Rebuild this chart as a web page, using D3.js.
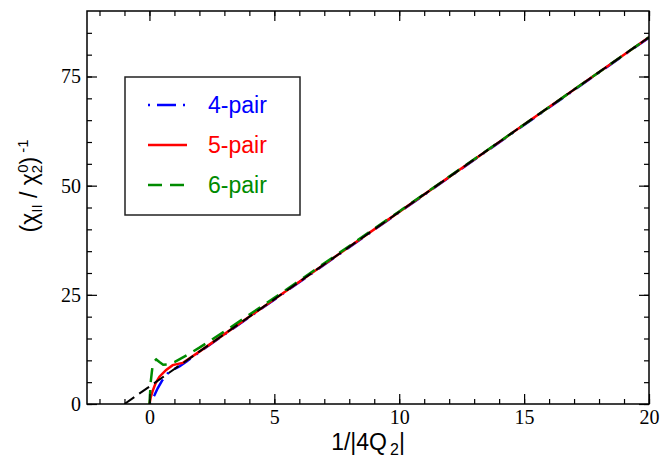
<!DOCTYPE html>
<html>
<head>
<meta charset="utf-8">
<script src="https://cdn.jsdelivr.net/npm/d3@7"></script>
<style>
  body { margin: 0; background: #fff; }
  svg { display: block; }
</style>
</head>
<body>
<div id="chart"></div>
<script>
// x ticks
const xMajor = [0, 5, 10, 15, 20];
const xMinor = [-2, -1, 0, 1, 2, 3, 4, 5, 6, 7, 8, 9, 10, 11, 12, 13, 14, 15, 16, 17, 18, 19, 20];
// y ticks
const yMajor = [0, 25, 50, 75];
const yMinor = [0, 5, 10, 15, 20, 25, 30, 35, 40, 45, 50, 55, 60, 65, 70, 75, 80, 85];

// 4-pair
const fourX = [0, 0.1, 0.2, 0.33, 0.5, 0.73, 0.93, 1.2, 1.5, 2, 3, 5, 10, 15, 20];
const fourY = [0, 1.0, 2.0, 3.6, 5.3, 7.0, 7.8, 8.6, 9.8, 11.9, 15.9, 23.9, 43.9, 63.9, 83.9];
// 5-pair
const fiveX = [0, 0.05, 0.13, 0.25, 0.4, 0.67, 0.93, 1.33, 2, 3, 5, 10, 15, 20];
const fiveY = [0, 1.5, 3.0, 4.8, 6.25, 7.8, 8.9, 9.4, 12.0, 16.0, 24.0, 44.0, 64.0, 84.0];
// 6-pair
const sixX = [0, 0.05, 0.12, 0.2, 0.27, 0.4, 0.55, 0.75, 1.0, 1.5, 2, 3, 5, 10, 15, 20];
const sixY = [0, 5.0, 8.5, 9.8, 10.2, 9.6, 9.0, 9.1, 9.6, 11.2, 12.9, 16.6, 24.3, 44.1, 64.0, 84.0];
// black dashed guide
const refX = [-1, 20];
const refY = [0, 84];

const seriesNames = ["4-pair", "5-pair", "6-pair"];

//set margins and dimensions
const margin = {top: 11, right: 15, bottom: 55, left: 87};
const width = 664 - margin.left - margin.right;
const height = 459 - margin.top - margin.bottom;

const serif = "'Liberation Serif', 'Times New Roman', serif";
const sans = "'Liberation Sans', Arial, sans-serif";

const x = d3.scaleLinear().domain([-2.5, 20]).range([0, width]);
const y = d3.scaleLinear().domain([0, 90]).range([height, 0]);

const svg = d3.select('#chart').append('svg')
    .attr('width', 664)
    .attr('height', 459);

const g = svg.append('g')
    .attr('transform', 'translate(' + margin.left + ',' + margin.top + ')');

const zip = (xs, ys) => xs.map((v, i) => [v, ys[i]]);

const line = d3.line()
    .x(d => x(d[0]))
    .y(d => y(d[1]));

const series = [
  {name: seriesNames[0], data: zip(fourX, fourY), color: '#0000ff', dash: '2,7,19,7'},
  {name: seriesNames[1], data: zip(fiveX, fiveY), color: '#ff0000', dash: null},
  {name: seriesNames[2], data: zip(sixX, sixY), color: '#008b00', dash: '14,8'}
];

g.append('clipPath').attr('id', 'clip')
  .append('rect').attr('width', width).attr('height', height);

const plot = g.append('g').attr('clip-path', 'url(#clip)');

series.forEach(s => {
  plot.append('path')
    .datum(s.data)
    .attr('fill', 'none')
    .attr('stroke', s.color)
    .attr('stroke-width', 2.5)
    .attr('stroke-dasharray', s.dash)
    .attr('d', line);
});

plot.append('path')
  .datum(zip(refX, refY))
  .attr('fill', 'none')
  .attr('stroke', '#000')
  .attr('stroke-width', 2)
  .attr('stroke-dasharray', '12,6')
  .attr('d', line);

// axes, ticks pointing inward on all sides
function styleAxis(sel) {
  sel.select('.domain').remove();
  sel.attr('font-family', serif).attr('font-size', 20);
  sel.selectAll('.tick line').attr('stroke', '#000').attr('stroke-width', 1.2);
  sel.selectAll('.tick text').attr('fill', '#000');
}

g.append('g').attr('transform', 'translate(0,' + height + ')')
  .call(d3.axisBottom(x).tickValues(xMinor).tickSize(-5).tickFormat(''))
  .call(styleAxis);
g.append('g').attr('transform', 'translate(0,' + height + ')')
  .call(d3.axisBottom(x).tickValues(xMajor).tickSize(-10).tickPadding(6).tickFormat(d3.format('d')))
  .call(styleAxis);
g.append('g')
  .call(d3.axisTop(x).tickValues(xMinor).tickSize(-5).tickFormat(''))
  .call(styleAxis);
g.append('g')
  .call(d3.axisTop(x).tickValues(xMajor).tickSize(-10).tickFormat(''))
  .call(styleAxis);

g.append('g')
  .call(d3.axisLeft(y).tickValues(yMinor).tickSize(-5).tickFormat(''))
  .call(styleAxis);
g.append('g')
  .call(d3.axisLeft(y).tickValues(yMajor).tickSize(-10).tickPadding(6).tickFormat(d3.format('d')))
  .call(styleAxis);
g.append('g').attr('transform', 'translate(' + width + ',0)')
  .call(d3.axisRight(y).tickValues(yMinor).tickSize(-5).tickFormat(''))
  .call(styleAxis);
g.append('g').attr('transform', 'translate(' + width + ',0)')
  .call(d3.axisRight(y).tickValues(yMajor).tickSize(-10).tickFormat(''))
  .call(styleAxis);

// frame
g.append('rect')
  .attr('width', width)
  .attr('height', height)
  .attr('fill', 'none')
  .attr('stroke', '#000')
  .attr('stroke-width', 1.5);

// legend
const legend = g.append('g').attr('transform', 'translate(' + (125 - margin.left) + ',' + (77 - margin.top) + ')');
legend.append('rect')
  .attr('width', 175)
  .attr('height', 138)
  .attr('fill', '#fff')
  .attr('stroke', '#222')
  .attr('stroke-width', 1.5);

series.forEach((s, i) => {
  const ly = 28 + i * 40;
  legend.append('line')
    .attr('x1', 23).attr('x2', 62)
    .attr('y1', ly).attr('y2', ly)
    .attr('stroke', s.color)
    .attr('stroke-width', 2.5)
    .attr('stroke-dasharray', s.dash);
  legend.append('text')
    .attr('x', 83)
    .attr('y', ly)
    .attr('dy', '0.36em')
    .attr('fill', s.color)
    .style('font-family', sans)
    .style('font-size', '23px')
    .text(s.name);
});

// x axis title
const xt = svg.append('text')
  .attr('x', margin.left + width / 2)
  .attr('y', 450)
  .attr('text-anchor', 'middle')
  .style('font-family', sans)
  .style('font-size', '23px')
  .attr('fill', '#000');
xt.append('tspan').text('1/|4Q');
xt.append('tspan').style('font-size', '16px').attr('dx', 3).attr('dy', 5).text('2');
xt.append('tspan').attr('dy', -5).text('|');

// y axis title
const yt = svg.append('text')
  .attr('transform', 'translate(37,' + 186 + ') rotate(-90)')
  .attr('text-anchor', 'middle')
  .style('font-family', sans)
  .style('font-size', '23px')
  .attr('fill', '#000');
yt.append('tspan').text('(χ');
yt.append('tspan').style('font-size', '15px').attr('dy', 5).text('II');
yt.append('tspan').attr('dy', -5).text(' / χ');
yt.append('tspan').style('font-size', '15px').attr('dy', 5).text('2');
yt.append('tspan').style('font-size', '15px').attr('dx', -8).attr('dy', -14).text('0');
yt.append('tspan').attr('dy', 9).text(')');
yt.append('tspan').style('font-size', '15px').attr('dx', 4).attr('dy', -9).text('-1');
</script>
</body>
</html>
